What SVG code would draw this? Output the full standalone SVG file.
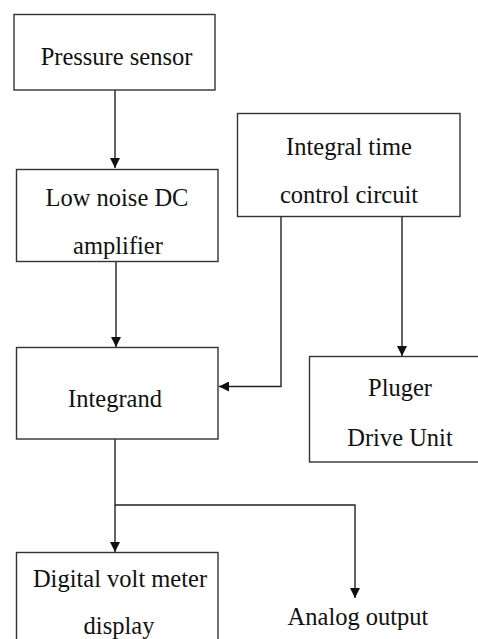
<svg xmlns="http://www.w3.org/2000/svg" width="478" height="639" viewBox="0 0 478 639">
<defs>
<style>
.box{fill:#fff;stroke:#333;stroke-width:1.4}
.t{font-family:'Liberation Serif','Times New Roman',Times,'DejaVu Serif',serif;font-size:24.5px;fill:#111;text-anchor:middle}
.c{fill:none;stroke:#222;stroke-width:1.4}
</style>
<marker id="ah" viewBox="0 0 10 10" refX="10" refY="5" markerWidth="10" markerHeight="10" markerUnits="userSpaceOnUse" orient="auto">
<path d="M0,0 L10,5 L0,10 z" fill="#111"/>
</marker>
</defs>
<rect width="478" height="639" fill="#fff"/>
<g id="connectors">
<line class="c" x1="115" y1="90" x2="115" y2="168" marker-end="url(#ah)"/>
<line class="c" x1="116" y1="262" x2="116" y2="347" marker-end="url(#ah)"/>
<polyline class="c" points="281,217 281,386.5 219,386.5" marker-end="url(#ah)"/>
<line class="c" x1="402" y1="217" x2="402" y2="356" marker-end="url(#ah)"/>
<line class="c" x1="115" y1="439" x2="115" y2="552" marker-end="url(#ah)"/>
<polyline class="c" points="115,505 355,505 355,598" marker-end="url(#ah)"/>
</g>
<g id="pressure">
<rect class="box" x="14" y="14.5" width="201" height="75.5"/>
<text class="t" x="116.5" y="65">Pressure sensor</text>
</g>
<g id="amplifier">
<rect class="box" x="16.5" y="169.5" width="201.5" height="92"/>
<text class="t" x="117" y="205.5">Low noise DC</text>
<text class="t" x="118" y="254">amplifier</text>
</g>
<g id="integral">
<rect class="box" x="237.5" y="113.5" width="222.5" height="103"/>
<text class="t" x="349" y="155">Integral time</text>
<text class="t" x="349" y="203">control circuit</text>
</g>
<g id="integrand">
<rect class="box" x="16.5" y="347.5" width="201.5" height="91.5"/>
<text class="t" x="115" y="406.5">Integrand</text>
</g>
<g id="pluger">
<rect class="box" x="309.5" y="356.5" width="175" height="105.5"/>
<text class="t" x="400" y="395.5">Pluger</text>
<text class="t" x="400" y="445.5">Drive Unit</text>
</g>
<g id="dvm">
<rect class="box" x="16.5" y="552.5" width="201.5" height="100"/>
<text class="t" x="120" y="586.5">Digital volt meter</text>
<text class="t" x="119" y="634">display</text>
</g>
<g id="analog">
<text class="t" x="358" y="625">Analog output</text>
</g>
</svg>
